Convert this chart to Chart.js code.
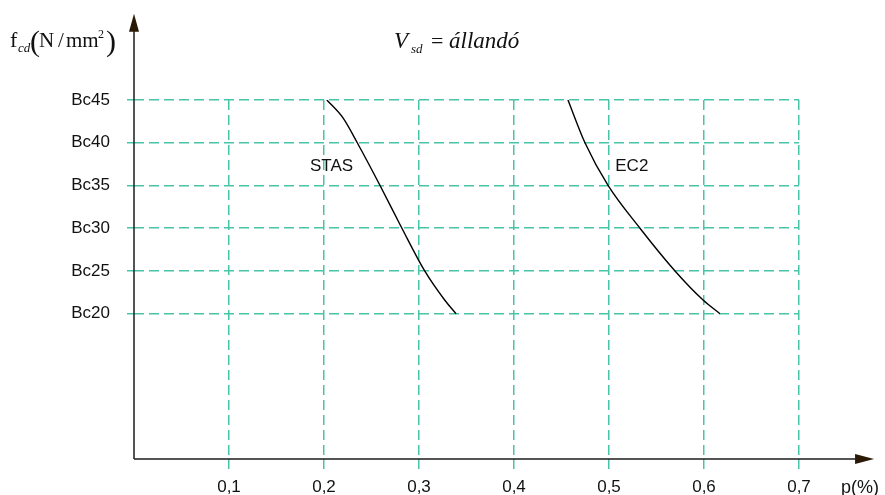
<!DOCTYPE html>
<html>
<head>
<meta charset="utf-8">
<script src="https://cdn.jsdelivr.net/npm/chart.js@4.4.0/dist/chart.umd.min.js"></script>
<style>
html,body{margin:0;padding:0;background:#fff;}
#wrap{width:885px;height:495px;}
</style>
</head>
<body>
<div id="wrap"><canvas id="chart" width="885" height="495"></canvas></div>
<script>
// concrete grades on the vertical axis
const gradeValues = [20, 25, 30, 35, 40, 45];
const gradeLabels = ['Bc20', 'Bc25', 'Bc30', 'Bc35', 'Bc40', 'Bc45'];
// p(%) ticks
const pTicks = [0.1, 0.2, 0.3, 0.4, 0.5, 0.6, 0.7];
const pLabels = ['0,1', '0,2', '0,3', '0,4', '0,5', '0,6', '0,7'];

// STAS curve
const stasP = [0.203, 0.220, 0.235, 0.259, 0.282, 0.306, 0.327, 0.339];
const stasF = [45, 42.9, 40, 35, 30, 25, 21.6, 20];
// EC2 curve
const ec2P = [0.4568, 0.4747, 0.499, 0.5326, 0.5695, 0.599, 0.6168];
const ec2F = [45, 40, 35, 30, 25, 21.6, 20];

// curve names and where they sit (data units)
const curveNames = ['STAS', 'EC2'];
const curveLabelP = [0.208, 0.524];
const curveLabelF = [37.2, 37.2];

const gridCol = 'rgb(72,196,168)';

function pts(xs, ys) {
    let out = [];
    for (let i = 0; i < xs.length; i++) out.push({x: xs[i], y: ys[i]});
    return out;
}

const axesPlugin = {
    id: 'axesPlugin',
    afterDraw(chart) {
        const ctx = chart.ctx;
        const sx = chart.scales.x, sy = chart.scales.y;
        const x0 = sx.getPixelForValue(0);
        const y0 = sy.getPixelForValue(3);
        const yTop = sy.getPixelForValue(55.1);
        const xEnd = sx.getPixelForValue(0.779);
        ctx.save();
        ctx.strokeStyle = '#1e1e1e';
        ctx.lineWidth = 1.5;
        ctx.beginPath();
        ctx.moveTo(x0, y0); ctx.lineTo(x0, yTop + 16);
        ctx.moveTo(x0, y0); ctx.lineTo(xEnd - 17, y0);
        ctx.stroke();
        ctx.fillStyle = '#2a1a05';
        ctx.beginPath();
        ctx.moveTo(x0, yTop); ctx.lineTo(x0 - 5, yTop + 18); ctx.lineTo(x0 + 5, yTop + 18);
        ctx.closePath(); ctx.fill();
        ctx.beginPath();
        ctx.moveTo(xEnd, y0); ctx.lineTo(xEnd - 19, y0 - 5); ctx.lineTo(xEnd - 19, y0 + 5);
        ctx.closePath(); ctx.fill();

        // curve names
        ctx.fillStyle = '#111';
        ctx.font = '17px "Liberation Sans", Arial, sans-serif';
        ctx.textAlign = 'center';
        ctx.textBaseline = 'middle';
        for (let i = 0; i < curveNames.length; i++) {
            ctx.fillText(curveNames[i], sx.getPixelForValue(curveLabelP[i]), sy.getPixelForValue(curveLabelF[i]));
        }

        // p(%) axis name
        ctx.textAlign = 'left';
        ctx.textBaseline = 'alphabetic';
        ctx.font = '18px "Liberation Sans", Arial, sans-serif';
        ctx.fillText('p(%)', 841, 493);

        // y axis name f_cd (N / mm^2)
        const serif = '"Liberation Serif", "Times New Roman", serif';
        ctx.font = '22px ' + serif;
        ctx.fillText('f', 10, 47);
        ctx.font = 'italic 13px ' + serif;
        ctx.fillText('cd', 18, 52);
        ctx.font = '30px ' + serif;
        ctx.fillText('(', 30, 51);
        ctx.fillText(')', 106, 51);
        ctx.font = '21px ' + serif;
        ctx.fillText('N', 39, 47);
        ctx.fillText('/', 58, 47);
        ctx.fillText('mm', 66, 47);
        ctx.font = '12px ' + serif;
        ctx.fillText('2', 98, 38);

        // V_sd = állandó
        ctx.font = 'italic 23px ' + serif;
        ctx.fillText('V', 394, 48);
        ctx.font = 'italic 13px ' + serif;
        ctx.fillText('sd', 411, 53);
        ctx.font = '22px ' + serif;
        ctx.fillText('=', 431, 48);
        ctx.font = 'italic 23px ' + serif;
        ctx.fillText('állandó', 449, 48);
        ctx.restore();
    }
};

Chart.defaults.font.family = '"Liberation Sans", Arial, sans-serif';
Chart.defaults.font.size = 17;
Chart.defaults.color = '#111';

let ctx = document.getElementById('chart').getContext('2d');
let myChart = new Chart(ctx, {
    type: 'scatter',
    data: {
        datasets: [{
            label: 'STAS',
            data: pts(stasP, stasF),
            showLine: true,
            borderColor: '#000',
            borderWidth: 1.4,
            pointRadius: 0,
            cubicInterpolationMode: 'monotone'
        }, {
            label: 'EC2',
            data: pts(ec2P, ec2F),
            showLine: true,
            borderColor: '#000',
            borderWidth: 1.4,
            pointRadius: 0,
            cubicInterpolationMode: 'monotone'
        }]
    },
    options: {
        responsive: false,
        animation: false,
        maintainAspectRatio: false,
        layout: {padding: {top: 100, right: 86, left: 0, bottom: 0}},
        plugins: {
            legend: {display: false},
            tooltip: {enabled: false}
        },
        scales: {
            x: {
                type: 'linear',
                min: 0,
                max: 0.7,
                afterBuildTicks: (s) => { s.ticks = pTicks.map(v => ({value: v})); },
                afterFit: (s) => { s.height = 36; },
                ticks: {
                    padding: 6,
                    maxRotation: 0,
                    callback: (v) => pLabels[pTicks.indexOf(v)] || ''
                },
                grid: {
                    color: gridCol,
                    lineWidth: 1.5,
                    tickLength: 12,
                    tickColor: gridCol,
                    tickWidth: 1.5,
                    tickBorderDash: [10, 5]
                },
                border: {display: false, dash: [10, 5]}
            },
            y: {
                type: 'linear',
                min: 3,
                max: 45,
                afterBuildTicks: (s) => { s.ticks = gradeValues.map(v => ({value: v})); },
                afterFit: (s) => { s.width = 134; },
                ticks: {
                    padding: 17,
                    callback: (v) => gradeLabels[gradeValues.indexOf(v)] || ''
                },
                grid: {
                    color: gridCol,
                    lineWidth: 1.5,
                    tickLength: 7,
                    tickColor: gridCol,
                    tickWidth: 1.5,
                    tickBorderDash: [10, 5]
                },
                border: {display: false, dash: [10, 5]}
            }
        }
    },
    plugins: [axesPlugin]
});
</script>
</body>
</html>
